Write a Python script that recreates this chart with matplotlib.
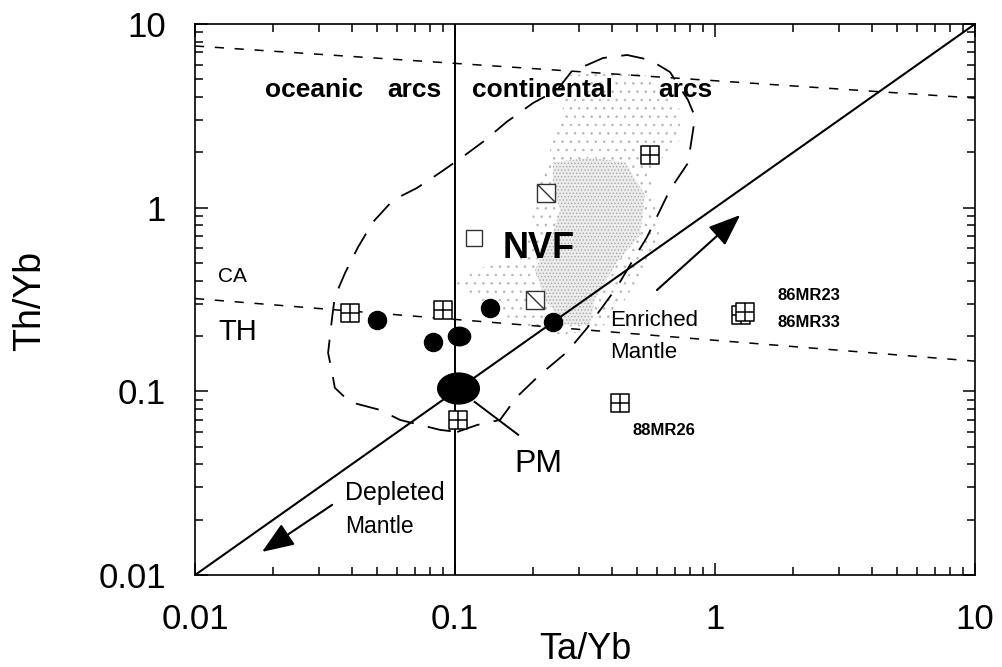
import matplotlib
matplotlib.use("Agg")
import matplotlib.pyplot as plt
from matplotlib.path import Path
from matplotlib.transforms import Affine2D
from matplotlib.ticker import FixedLocator, FixedFormatter, LogLocator, NullFormatter

plt.rcParams['font.family'] = ['Liberation Sans', 'DejaVu Sans']
plt.rcParams['hatch.linewidth'] = 0.6

# ---------------- data ----------------
tick_vals = [0.01, 0.1, 1, 10]
tick_labels = ["0.01", "0.1", "1", "10"]

# NVF basalts (filled circles)
circ_ta = [0.050, 0.082, 0.136, 0.238]
circ_th = [0.245, 0.186, 0.284, 0.239]
# elongated filled symbol on the 0.1 line
ell_ta = [0.104]
ell_th = [0.200]
# Primitive mantle
pm_ta = [0.103]
pm_th = [0.104]
# squares with cross
sqx_ta = [0.0395, 0.0899, 0.103, 0.562, 1.26, 1.30, 0.431]
sqx_th = [0.267, 0.277, 0.0699, 1.94, 0.262, 0.272, 0.0865]
# squares with diagonal
sqd_ta = [0.224, 0.203]
sqd_th = [1.20, 0.315]
# open square
sqo_ta = [0.118]
sqo_th = [0.684]

# reference lines
mantle_ta = [0.01, 10]
mantle_th = [0.01, 10]
upper_ta = [0.01, 10]
upper_th = [7.59, 3.95]
cath_ta = [0.01, 10]
cath_th = [0.320, 0.146]
arc_split_ta = [0.1, 0.1]
arc_split_th = [0.01, 10]

# dashed field boundary (arc field)
field_ta = [0.102, 0.1216, 0.149, 0.173, 0.212, 0.270, 0.322, 0.420, 0.484, 0.548,
            0.671, 0.787, 0.816, 0.838, 0.787, 0.671, 0.562, 0.459, 0.371, 0.322,
            0.284, 0.247, 0.200, 0.158, 0.128, 0.107, 0.0875, 0.0714, 0.0578, 0.0484,
            0.0424, 0.0378, 0.0345, 0.0337, 0.0325, 0.0337, 0.0345, 0.0394, 0.0515,
            0.0614, 0.0875, 0.102]
field_th = [0.0601, 0.0656, 0.0699, 0.0933, 0.123, 0.164, 0.221, 0.370, 0.519, 0.693,
            1.25, 1.75, 2.43, 3.12, 3.86, 5.48, 6.37, 6.78, 6.53, 5.98,
            5.63, 4.37, 3.72, 2.93, 2.28, 1.89, 1.55, 1.28, 1.10, 0.836,
            0.611, 0.442, 0.327, 0.254, 0.162, 0.126, 0.1045, 0.0875, 0.0792,
            0.0699, 0.0617, 0.0601]

# NVF stippled field: dense core and sparse halo
core_ta = [0.238, 0.330, 0.451, 0.538, 0.515, 0.413, 0.345, 0.330, 0.265, 0.222,
           0.203, 0.232, 0.254, 0.238]
core_th = [1.77, 1.87, 1.77, 1.17, 0.71, 0.488, 0.315, 0.230, 0.230, 0.315,
           0.458, 0.667, 0.97, 1.33]
halo_ta = [0.277, 0.515, 0.733, 0.733, 0.562, 0.614, 0.451, 0.361, 0.254, 0.178,
           0.125, 0.100, 0.114, 0.178, 0.194, 0.212, 0.254]
halo_th = [5.27, 5.62, 3.41, 2.34, 1.60, 0.667, 0.315, 0.216, 0.203, 0.230,
           0.315, 0.379, 0.458, 0.519, 0.757, 1.42, 3.0]

# arrows / leader
enr_arrow = [(0.598, 0.356), (1.25, 0.912)]
dep_arrow = [(0.0337, 0.0241), (0.0181, 0.01336)]
pm_leader_ta = [0.119, 0.175]
pm_leader_th = [0.0876, 0.058]

# ---------------- figure ----------------
fig = plt.figure(figsize=(10.02, 6.67), dpi=100)
ax = fig.add_axes([195/1002, 92/667, 780/1002, 551/667])
ax.set_xscale('log')
ax.set_yscale('log')
ax.set_xlim(0.01, 10)
ax.set_ylim(0.01, 10)

# stippled NVF field
ax.fill(halo_ta, halo_th, facecolor='none', edgecolor='#b8b8b8', hatch='..', lw=0, zorder=1)
ax.fill(core_ta, core_th, facecolor='#ececec', edgecolor='#a8a8a8', hatch='.....', lw=0, zorder=1)

# reference lines
ax.plot(mantle_ta, mantle_th, color='black', lw=1.5, zorder=2)
ax.plot(arc_split_ta, arc_split_th, color='black', lw=1.4, zorder=2)
ax.plot(upper_ta, upper_th, color='black', lw=1.1, ls=(0, (6, 7)), zorder=2)
ax.plot(cath_ta, cath_th, color='black', lw=1.1, ls=(0, (6, 7)), zorder=2)
ax.plot(field_ta, field_th, color='black', lw=1.3, ls=(0, (13, 8)), zorder=2)
ax.plot(pm_leader_ta, pm_leader_th, color='black', lw=1.4, zorder=2)

# arrows
for (s, e) in (enr_arrow, dep_arrow):
    ax.annotate('', xy=e, xytext=s,
                arrowprops=dict(arrowstyle='-|>,head_length=0.9,head_width=0.35',
                                mutation_scale=22, lw=1.5, color='black',
                                shrinkA=0, shrinkB=0), zorder=3)

# markers
M, L, C = Path.MOVETO, Path.LINETO, Path.CLOSEPOLY
sq_cross = Path([(-1, -1), (1, -1), (1, 1), (-1, 1), (-1, -1),
                 (0, -1), (0, 1), (-1, 0), (1, 0)],
                [M, L, L, L, C, M, L, M, L])
sq_diag = Path([(-1, -1), (1, -1), (1, 1), (-1, 1), (-1, -1),
                (-1, 1), (1, -1)],
               [M, L, L, L, C, M, L])
ellipse = Path.unit_circle().transformed(Affine2D().scale(1.35, 1.0))
ellipse2 = Path.unit_circle().transformed(Affine2D().scale(1.2, 1.0))

ax.plot(sqx_ta, sqx_th, ls='none', marker=sq_cross, ms=13, mfc='white', mec='black', mew=1.1, zorder=4)
ax.plot(sqd_ta, sqd_th, ls='none', marker=sq_diag, ms=13, mfc='white', mec='#333333', mew=1.0, zorder=4)
ax.plot(sqo_ta, sqo_th, ls='none', marker='s', ms=12, mfc='white', mec='#333333', mew=1.0, zorder=4)
ax.plot(circ_ta, circ_th, ls='none', marker='o', ms=13, color='black', zorder=5)
ax.plot(ell_ta, ell_th, ls='none', marker=ellipse2, ms=16, color='black', zorder=5)
ax.plot(pm_ta, pm_th, ls='none', marker=ellipse, ms=30, color='black', zorder=5)

# text
def T(x, y, s, **kw):
    ax.text(x, y, s, transform=ax.transAxes, va='baseline', ha='left', **kw)

T(0.0897, 0.8675, "oceanic", fontsize=19, fontweight='bold')
T(0.247, 0.8675, "arcs", fontsize=19, fontweight='bold')
T(0.355, 0.8675, "continental", fontsize=19, fontweight='bold')
T(0.594, 0.8675, "arcs", fontsize=19, fontweight='bold')
T(0.395, 0.575, "NVF", fontsize=26, fontweight='bold')
T(0.0295, 0.532, "CA", fontsize=15)
T(0.0295, 0.4265, "TH", fontsize=21)
T(0.532, 0.452, "Enriched", fontsize=16)
T(0.532, 0.394, "Mantle", fontsize=16)
T(0.747, 0.499, "86MR23", fontsize=12, fontweight='bold')
T(0.747, 0.450, "86MR33", fontsize=12, fontweight='bold')
T(0.5615, 0.254, "88MR26", fontsize=12, fontweight='bold')
T(0.41, 0.187, "PM", fontsize=23)
T(0.192, 0.136, "Depleted", fontsize=18)
T(0.192, 0.076, "Mantle", fontsize=16.5)

# axes styling
for sp in ax.spines.values():
    sp.set_linewidth(1.2)
ax.xaxis.set_major_locator(FixedLocator(tick_vals))
ax.xaxis.set_major_formatter(FixedFormatter(tick_labels))
ax.yaxis.set_major_locator(FixedLocator(tick_vals))
ax.yaxis.set_major_formatter(FixedFormatter(tick_labels))
ax.xaxis.set_minor_locator(LogLocator(base=10, subs=range(2, 10)))
ax.yaxis.set_minor_locator(LogLocator(base=10, subs=range(2, 10)))
ax.xaxis.set_minor_formatter(NullFormatter())
ax.yaxis.set_minor_formatter(NullFormatter())
ax.tick_params(which='both', direction='in', top=True, right=True, width=1.1)
ax.tick_params(which='major', length=9)
ax.tick_params(which='minor', length=6)
ax.tick_params(axis='x', which='major', labelsize=25, pad=20)
ax.tick_params(axis='y', which='major', labelsize=25, pad=21)

ax.set_xlabel("Ta/Yb", fontsize=26, va='top')
ax.set_ylabel("Th/Yb", fontsize=27)
ax.xaxis.set_label_coords(0.5, -0.104)
ax.yaxis.set_label_coords(-0.188, 0.497)

fig.savefig("out.png", dpi=100)
